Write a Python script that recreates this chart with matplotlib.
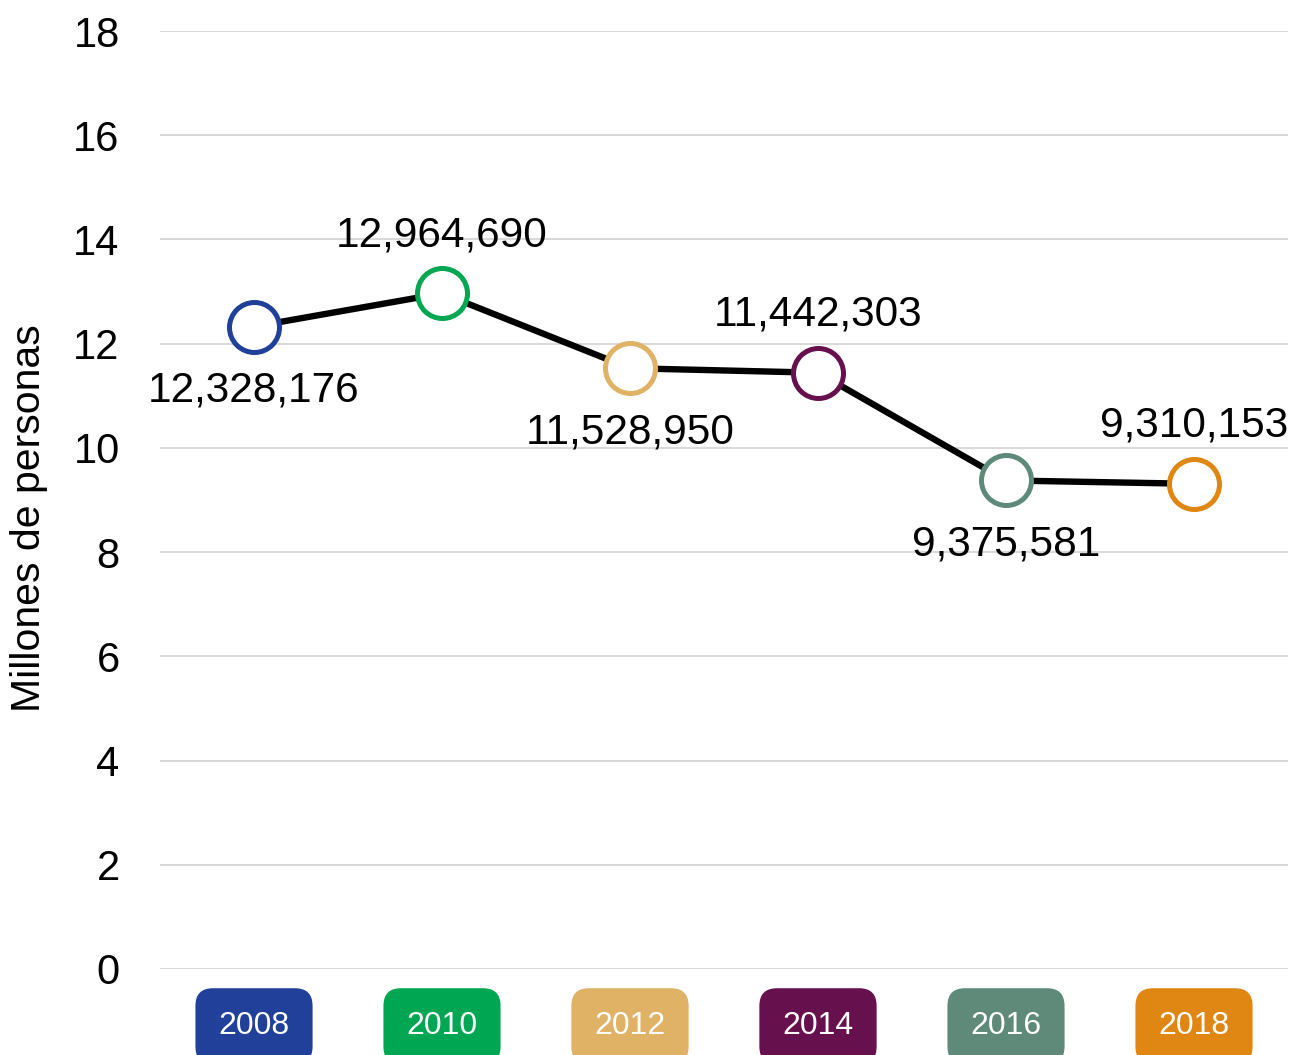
import matplotlib
matplotlib.use("Agg")
import matplotlib.pyplot as plt

years = ["2008", "2010", "2012", "2014", "2016", "2018"]
values = [12328176, 12964690, 11528950, 11442303, 9375581, 9310153]
colors = ["#21409A", "#00A651", "#E0B266", "#66114E", "#5F8A7A", "#DF8613"]
label_side = ["below", "above", "below", "above", "below", "above"]
yticks = [0, 2, 4, 6, 8, 10, 12, 14, 16, 18]

plt.rcParams['font.family'] = ['Liberation Sans', 'DejaVu Sans']

fig = plt.figure(figsize=(12.94, 10.55), dpi=100)
ax = fig.add_axes([160/1294, 86/1055, 1128/1294, 938/1055])

x = list(range(len(years)))
y = [v / 1e6 for v in values]

ax.plot(x, y, color="black", lw=4.6, zorder=2, solid_capstyle="butt")
for xi, yi, c in zip(x, y, colors):
    ax.plot([xi], [yi], marker="o", ms=36, mfc="white", mec=c, mew=3.6, zorder=3)

for xi, yi, v, side in zip(x, y, values, label_side):
    off = 42 if side == "above" else -46
    ax.annotate(f"{v:,}", (xi, yi), xytext=(0, off), textcoords="offset points",
                ha="center", va="center", fontsize=30.5, color="black", zorder=4)

ax.set_xlim(-0.5, len(years) - 0.5)
ax.set_ylim(0, 18)
ax.set_yticks(yticks)
ax.set_yticklabels([str(t) for t in yticks], fontsize=30)
ax.tick_params(axis="y", length=0, pad=29)
ax.set_xticks([])
ax.grid(axis="y", color="#d9d9d9", lw=1.5)
ax.set_axisbelow(True)
for s in ax.spines.values():
    s.set_visible(False)

ax.set_ylabel("Millones de personas", fontsize=29.5)
ax.yaxis.set_label_coords(-0.099, 0.481)

for xi, yr, c in zip(x, years, colors):
    ax.text(xi, -0.061, yr, transform=ax.get_xaxis_transform(), ha="center", va="center",
            fontsize=23, color="white", clip_on=False,
            bbox=dict(boxstyle="round,pad=0.72,rounding_size=0.55", fc=c, ec="none"))

fig.savefig("out.png", dpi=100)
